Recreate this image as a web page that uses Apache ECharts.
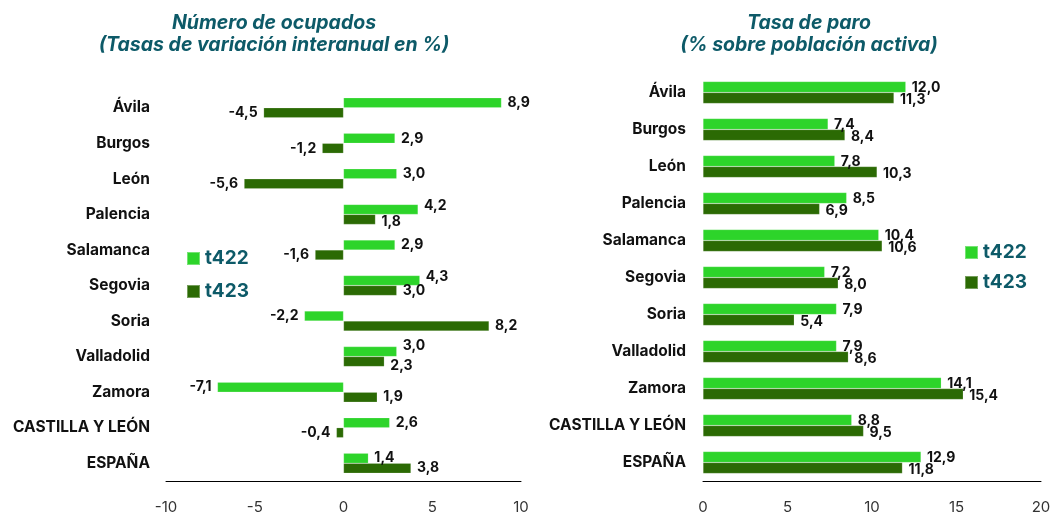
<!DOCTYPE html>
<html><head><meta charset="utf-8">
<script src="https://cdn.jsdelivr.net/npm/echarts@6/dist/echarts.min.js"></script>
<style>html,body{margin:0;padding:0;background:#fff}#c{width:1051px;height:512px}</style>
</head><body><div id="c"></div>
<script>
const categories = ['Ávila','Burgos','León','Palencia','Salamanca','Segovia','Soria','Valladolid','Zamora','CASTILLA Y LEÓN','ESPAÑA'];
const seriesNames = ['t422','t423'];
const ocupados422 = [8.9, 2.9, 3.0, 4.2, 2.9, 4.3, -2.2, 3.0, -7.1, 2.6, 1.4];
const ocupados423 = [-4.5, -1.2, -5.6, 1.8, -1.6, 3.0, 8.2, 2.3, 1.9, -0.4, 3.8];
const paro422 = [12.0, 7.4, 7.8, 8.5, 10.4, 7.2, 7.9, 7.9, 14.1, 8.8, 12.9];
const paro423 = [11.3, 8.4, 10.3, 6.9, 10.6, 8.0, 5.4, 8.6, 15.4, 9.5, 11.8];
const leftTitle = 'Número de ocupados\n(Tasas de variación interanual en %)';
const rightTitle = 'Tasa de paro\n(% sobre población activa)';

const C1 = '#2dd42a', C2 = '#2b6a04', TEAL = '#0d5a68';
const FONT = 'Inter';
const fmt = v => v.toFixed(1).replace('.', ',');
// label nudges (vertical, px) where the original spreads overlapping labels apart
const nudgeUp = { 'Palencia': -4, 'Segovia': -4, 'Valladolid': -6 };
const nudgeDown = { 'Palencia': 2, 'Valladolid': 4 };

function barSeries(name, data, color, xi, bw, nudge, baseDy) {
  return {
    name: name, type: 'bar', xAxisIndex: xi, yAxisIndex: xi,
    barWidth: bw, barGap: '0%',
    itemStyle: { color: color, borderColor: 'rgba(255,255,255,0.35)', borderWidth: 0.5 },
    data: data.map((v, i) => ({
      value: v,
      label: { position: v < 0 ? 'left' : 'right', offset: [0, baseDy + ((nudge && nudge[categories[i]]) || 0)] }
    })),
    label: {
      show: true, distance: 6, color: '#111', fontFamily: FONT, fontWeight: 'bold', fontSize: 14,
      formatter: p => fmt(p.value)
    }
  };
}

const catAxis = (gi, margin) => ({
  type: 'category', gridIndex: gi, data: categories, inverse: true,
  axisLine: { show: false, onZero: false }, axisTick: { show: false },
  axisLabel: { margin: margin, color: '#111', fontFamily: FONT, fontWeight: 'bold', fontSize: 15.5 }
});
const valAxis = (gi, min, max) => ({
  type: 'value', gridIndex: gi, min: min, max: max, interval: 5,
  splitLine: { show: false },
  axisLine: { show: true, onZero: false, lineStyle: { color: '#000', width: 1 } },
  axisTick: { show: false },
  axisLabel: { margin: 19, color: '#333', fontFamily: FONT, fontSize: 15 }
});
const titleStyle = { color: TEAL, fontFamily: FONT, fontStyle: 'italic', fontWeight: 'bold', fontSize: 19.5, lineHeight: 22 };
const legendText = { color: TEAL, fontFamily: FONT, fontWeight: 'bold', fontSize: 19 };

const chart = echarts.init(document.getElementById('c'));
chart.setOption({
  animation: false,
  title: [
    { text: leftTitle, left: 269, top: 7, textAlign: 'center', textStyle: titleStyle },
    { text: rightTitle, left: 804, top: 7, textAlign: 'center', textStyle: titleStyle }
  ],
  legend: [
    { data: seriesNames, orient: 'vertical', left: 181, top: 244, itemWidth: 13, itemHeight: 13, itemGap: 14,
      icon: 'rect', textStyle: legendText },
    { data: seriesNames, orient: 'vertical', left: 959, top: 238, itemWidth: 13, itemHeight: 13, itemGap: 11,
      icon: 'rect', textStyle: legendText }
  ],
  grid: [
    { left: 166, right: 530, top: 90, bottom: 31, outerBoundsMode: 'none', containLabel: false },
    { left: 703, right: 10, top: 74, bottom: 31, outerBoundsMode: 'none', containLabel: false }
  ],
  xAxis: [ valAxis(0, -10, 10), valAxis(1, 0, 20) ],
  yAxis: [ catAxis(0, 16), catAxis(1, 17) ],
  series: [
    barSeries(seriesNames[0], ocupados422, C1, 0, 10, nudgeUp, 0),
    barSeries(seriesNames[1], ocupados423, C2, 0, 10, nudgeDown, 0),
    barSeries(seriesNames[0], paro422, C1, 1, 11, null, 1),
    barSeries(seriesNames[1], paro423, C2, 1, 11, null, 2)
  ]
});
</script></body></html>
